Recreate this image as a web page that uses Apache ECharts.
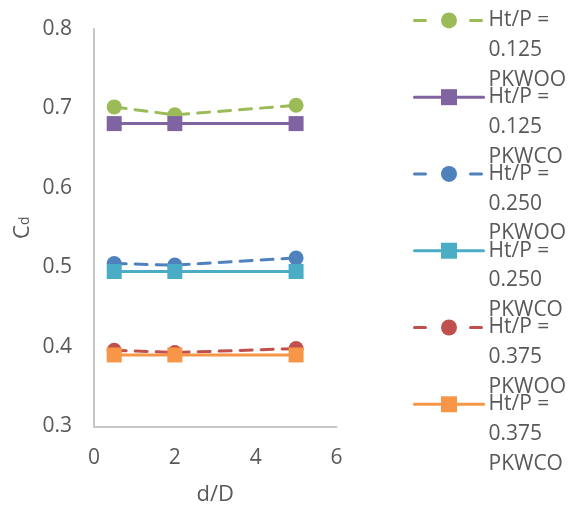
<!DOCTYPE html>
<html>
<head>
<meta charset="utf-8">
<script src="https://cdn.jsdelivr.net/npm/echarts@6/dist/echarts.min.js"></script>
<style>
  html, body { margin: 0; padding: 0; background: #fff; }
  #main { width: 570px; height: 506px; }
</style>
</head>
<body>
<div id="main"></div>
<script>
// d/D positions
var dD = [0.5, 2, 5];

// Cd values per case
var cd125Woo = [0.702, 0.692, 0.704];
var cd125Wco = [0.681, 0.681, 0.681];
var cd250Woo = [0.505, 0.503, 0.512];
var cd250Wco = [0.495, 0.495, 0.495];
var cd375Woo = [0.396, 0.393, 0.398];
var cd375Wco = [0.390, 0.390, 0.390];

var seriesNames = [
    'Ht/P = 0.125 PKWOO',
    'Ht/P = 0.125 PKWCO',
    'Ht/P = 0.250 PKWOO',
    'Ht/P = 0.250 PKWCO',
    'Ht/P = 0.375 PKWOO',
    'Ht/P = 0.375 PKWCO'
];
var seriesValues = [cd125Woo, cd125Wco, cd250Woo, cd250Wco, cd375Woo, cd375Wco];
var seriesColors = ['#9BBB59', '#8064A2', '#4F81BD', '#4BACC6', '#C0504D', '#F79646'];

var yTicks = [0.3, 0.4, 0.5, 0.6, 0.7, 0.8];
var xTicks = [0, 2, 4, 6];

var textColor = '#595959';
var fontFamily = "'Open Sans', sans-serif";

var series = [];
var dashedNames = [];
var solidNames = [];
for (var i = 0; i < seriesNames.length; i++) {
    var woo = (i % 2 === 0);   // PKWOO = dashed line with circles
    var pts = [];
    for (var j = 0; j < dD.length; j++) {
        pts.push([dD[j], seriesValues[i][j]]);
    }
    series.push({
        name: seriesNames[i],
        type: 'line',
        data: pts,
        symbol: woo ? 'circle' : 'rect',
        symbolSize: 15,
        showSymbol: true,
        animation: false,
        itemStyle: { color: seriesColors[i] },
        lineStyle: {
            color: seriesColors[i],
            width: 3,
            type: woo ? [12, 9] : 'solid',
            cap: 'round'
        },
        emphasis: { disabled: true }
    });
    if (woo) dashedNames.push(seriesNames[i]);
    else solidNames.push(seriesNames[i]);
}

// legend entries alternate dashed / solid, so two interleaved legends
function makeLegend(names, top, dash) {
    return {
        orient: 'vertical',
        left: 413,
        top: top,
        padding: 0,
        itemGap: 4.8,
        itemWidth: 69,
        itemHeight: 20,
        data: names,
        lineStyle: dash ? { type: [11, 45], width: 3 } : { width: 3 },
        // two blank lines first so the symbol sits beside "Ht/P ="
        formatter: function (name) {
            return '\n\n' + name.replace('= ', '=\n').replace(' PKW', '\nPKW');
        },
        textStyle: {
            color: textColor,
            fontSize: 21,
            fontFamily: fontFamily,
            lineHeight: 29.75
        }
    };
}

var myChart = echarts.init(document.getElementById('main'), null, { renderer: 'canvas' });

myChart.setOption({
    animation: false,
    textStyle: { fontFamily: fontFamily },
    grid: {
        left: 94,
        right: 233.5,
        top: 29,
        bottom: 79.5,
        containLabel: false,
        outerBoundsMode: 'none'
    },
    legend: [
        makeLegend(dashedNames, -54, true),
        makeLegend(solidNames, 22.8, false)
    ],
    xAxis: {
        type: 'value',
        min: xTicks[0],
        max: xTicks[xTicks.length - 1],
        interval: 2,
        name: 'd/D',
        nameLocation: 'middle',
        nameGap: 57,
        nameTextStyle: { color: textColor, fontSize: 22, fontFamily: fontFamily },
        axisLine: { show: true, lineStyle: { color: '#c6c6c6', width: 2 } },
        axisTick: { show: false },
        splitLine: { show: false },
        axisLabel: { color: textColor, fontSize: 21, margin: 21, fontFamily: fontFamily }
    },
    yAxis: {
        type: 'value',
        min: yTicks[0],
        max: yTicks[yTicks.length - 1],
        interval: 0.1,
        name: '{c|C}{s|d}',
        nameLocation: 'middle',
        nameRotate: 90,
        nameGap: 62,
        nameTextStyle: {
            color: textColor,
            fontFamily: fontFamily,
            rich: {
                c: { fontSize: 22, lineHeight: 20, verticalAlign: 'top', color: textColor, fontFamily: fontFamily },
                s: { fontSize: 14, lineHeight: 14, padding: [18, 0, 0, 0], verticalAlign: 'bottom', color: textColor, fontFamily: fontFamily }
            }
        },
        axisLine: { show: true, lineStyle: { color: '#c6c6c6', width: 2 } },
        axisTick: { show: false },
        splitLine: { show: false },
        axisLabel: {
            color: textColor,
            fontSize: 21,
            margin: 22,
            fontFamily: fontFamily,
            formatter: function (v) { return v.toFixed(1); }
        }
    },
    series: series
});
</script>
</body>
</html>
